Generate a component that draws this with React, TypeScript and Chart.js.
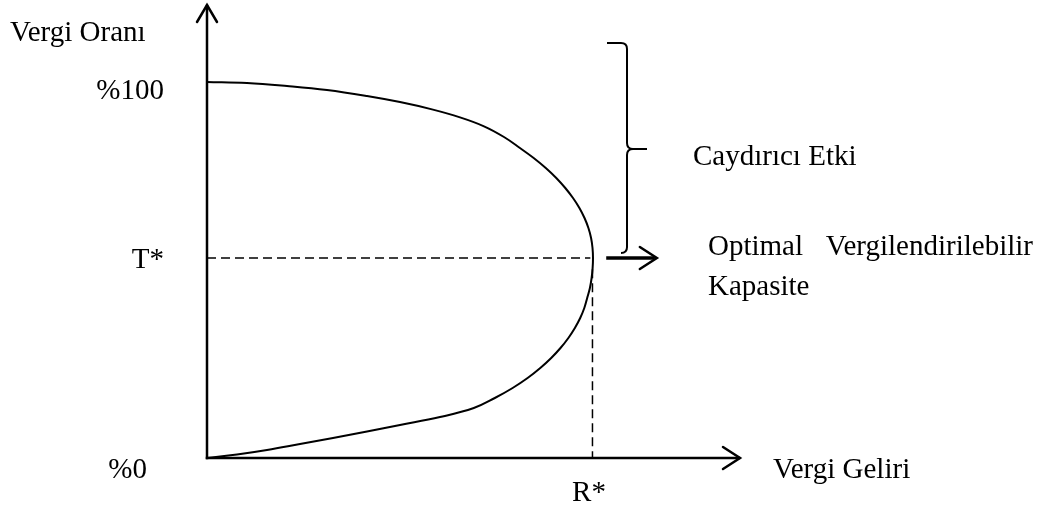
import { useEffect, useRef } from "react";
import { Chart, registerables } from "chart.js";

Chart.register(...registerables);

// Laffer curve: tax revenue (x) against tax rate (y), read from top to bottom
const revenue = [
  0, 7.5, 15.01, 22.51, 30.02, 36.21, 42.21, 47.47, 51.97, 55.72, 58.71, 61.29, 63.56, 65.53,
  67.22, 68.67, 69.87, 70.83, 71.56, 72.06, 72.33, 72.42,
  72.35, 72.16, 71.84, 71.33, 70.79, 70.02, 69.02, 67.8, 66.32, 64.58, 62.53, 60.15, 57.34, 54.0,
  50.06, 43.71, 36.21, 30.02, 23.64, 17.45, 11.26, 5.63, 0,
];
const rate = [
  100.27, 100.0, 99.2, 98.13, 96.53, 94.91, 92.96, 90.83, 88.45, 85.6, 82.67, 80.0, 77.33, 74.67,
  72.0, 69.33, 66.67, 64.0, 61.33, 58.67, 56.0, 53.33,
  50.67, 48.0, 45.33, 42.67, 40.0, 37.33, 34.67, 32.0, 29.33, 26.67, 24.0, 21.33, 18.67, 16.0,
  13.33, 10.93, 8.8, 7.07, 5.33, 3.73, 2.13, 0.93, 0,
];

const tStar = 53.33;
const rStar = 72.42;

const yTickValues = [100, tStar, 0];
const yTickLabels = ["%100", "T*", "%0"];
const xTickValues = [rStar];
const xTickLabels = ["R*"];

const yAxisTitle = "Vergi Oranı";
const xAxisTitle = "Vergi Geliri";
const braceLabel = "Caydırıcı Etki";
const optimumWords = ["Optimal", "Vergilendirilebilir"];
const optimumLine2 = "Kapasite";

// brace: top, middle (nub), bottom in rate units; x position in revenue units
const braceRates = [110.7, 82.4, tStar];
const braceX = 78.8;
const arrowRange = [74.9, 84.4];

const FONT = '29px "Liberation Serif", "Times New Roman", serif';

const overlay = {
  id: "overlay",
  afterDraw(chart: any) {
    const ctx: CanvasRenderingContext2D = chart.ctx;
    const X = (v: number) => chart.scales.x.getPixelForValue(v);
    const Y = (v: number) => chart.scales.y.getPixelForValue(v);
    const seg = (a: number, b: number, c: number, d: number) => {
      ctx.beginPath();
      ctx.moveTo(a, b);
      ctx.lineTo(c, d);
      ctx.stroke();
    };
    ctx.save();
    ctx.strokeStyle = "#000";
    ctx.fillStyle = "#000";
    ctx.setLineDash([]);

    // axes
    const x0 = X(0);
    const y0 = Y(0);
    const yTip = Y(120.8);
    const xTip = X(100);
    ctx.lineWidth = 2.5;
    ctx.lineCap = "square";
    seg(x0, y0, x0, yTip + 1);
    seg(x0, y0, xTip - 1, y0);
    ctx.lineCap = "round";
    ctx.lineJoin = "miter";
    ctx.beginPath();
    ctx.moveTo(x0 - 10, yTip + 17);
    ctx.lineTo(x0, yTip);
    ctx.lineTo(x0 + 10, yTip + 17);
    ctx.stroke();
    ctx.beginPath();
    ctx.moveTo(xTip - 17, y0 - 11);
    ctx.lineTo(xTip, y0);
    ctx.lineTo(xTip - 17, y0 + 11);
    ctx.stroke();

    // brace
    const bx = X(braceX);
    const bTop = Y(braceRates[0]);
    const bMid = Y(braceRates[1]);
    const bBot = Y(braceRates[2]) - 5;
    const r = 6;
    ctx.lineWidth = 2;
    ctx.lineCap = "butt";
    ctx.beginPath();
    ctx.moveTo(bx - 20, bTop);
    ctx.lineTo(bx - r, bTop);
    ctx.quadraticCurveTo(bx, bTop, bx, bTop + r);
    ctx.lineTo(bx, bMid - r);
    ctx.quadraticCurveTo(bx, bMid, bx + r, bMid);
    ctx.lineTo(bx + 20, bMid);
    ctx.moveTo(bx + r, bMid);
    ctx.quadraticCurveTo(bx, bMid, bx, bMid + r);
    ctx.lineTo(bx, bBot - r);
    ctx.quadraticCurveTo(bx, bBot, bx - r, bBot);
    ctx.lineTo(bx - 6, bBot);
    ctx.stroke();

    // arrow at T*
    const ay = Y(tStar);
    const ax1 = X(arrowRange[0]);
    const ax2 = X(arrowRange[1]);
    ctx.lineWidth = 3.5;
    seg(ax1, ay, ax2 - 2, ay);
    ctx.lineWidth = 2.5;
    ctx.lineCap = "round";
    ctx.beginPath();
    ctx.moveTo(ax2 - 17, ay - 11);
    ctx.lineTo(ax2, ay);
    ctx.lineTo(ax2 - 17, ay + 11);
    ctx.stroke();

    // texts
    ctx.font = FONT;
    ctx.textBaseline = "alphabetic";
    ctx.textAlign = "left";
    ctx.fillText(yAxisTitle, 10, 41);

    const yOffsets = [16, 10, 20];
    const yRight = [x0 - 43, x0 - 43, x0 - 60];
    ctx.textAlign = "right";
    yTickValues.forEach((v, i) => {
      ctx.fillText(yTickLabels[i], yRight[i], Y(v) + yOffsets[i]);
    });

    ctx.textAlign = "center";
    xTickValues.forEach((v, i) => {
      ctx.fillText(xTickLabels[i], X(v) - 4, y0 + 43);
    });

    ctx.textAlign = "left";
    ctx.fillText(xAxisTitle, xTip + 33, y0 + 20);
    ctx.fillText(braceLabel, 693, bMid + 16);
    ctx.fillText(optimumWords[0], 708, ay - 3);
    ctx.textAlign = "right";
    ctx.fillText(optimumWords[1], 1033, ay - 3);
    ctx.textAlign = "left";
    ctx.fillText(optimumLine2, 708, ay + 37);

    ctx.restore();
  },
};

export default function App() {
  const ref = useRef<HTMLCanvasElement | null>(null);
  useEffect(() => {
    if (!ref.current) return;
    const curve = revenue.map((x, i) => ({ x, y: rate[i] }));
    const chart = new Chart(ref.current, {
      type: "scatter",
      data: {
        datasets: [
          {
            data: curve,
            showLine: true,
            borderColor: "#000",
            borderWidth: 2,
            pointRadius: 0,
            tension: 0.4,
            fill: false,
            clip: false,
          } as any,
          {
            data: [
              { x: 0, y: tStar },
              { x: rStar - 0.5, y: tStar },
            ],
            showLine: true,
            borderColor: "#000",
            borderWidth: 1.5,
            borderDash: [9, 5],
            pointRadius: 0,
            clip: false,
          } as any,
          {
            data: [
              { x: rStar - 0.1, y: tStar - 3 },
              { x: rStar - 0.1, y: 0 },
            ],
            showLine: true,
            borderColor: "#000",
            borderWidth: 1.5,
            borderDash: [9, 5],
            pointRadius: 0,
            clip: false,
          } as any,
        ],
      },
      options: {
        animation: false,
        responsive: false,
        devicePixelRatio: 1,
        layout: { padding: { left: 207, right: 298, top: 8, bottom: 49 } },
        plugins: { legend: { display: false }, tooltip: { enabled: false } },
        events: [],
        scales: {
          x: { type: "linear", min: 0, max: 100, display: false },
          y: { type: "linear", min: 0, max: 120, display: false },
        },
      },
      plugins: [overlay],
    });
    return () => chart.destroy();
  }, []);
  return (
    <div style={{ position: "fixed", left: 0, top: 0, width: 1038, height: 507, background: "#fff" }}>
      <canvas ref={ref} width={1038} height={507} style={{ display: "block" }} />
    </div>
  );
}
